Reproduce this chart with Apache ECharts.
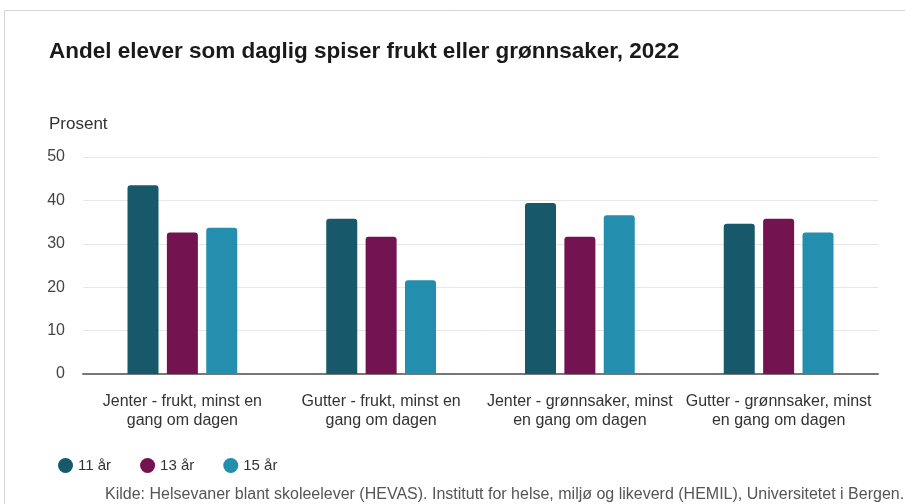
<!DOCTYPE html>
<html>
<head>
<meta charset="utf-8">
<script src="https://cdn.jsdelivr.net/npm/echarts@6/dist/echarts.min.js"></script>
<style>
  html, body { margin: 0; padding: 0; background: #fff; }
  #main { width: 905px; height: 504px; }
</style>
</head>
<body>
<div id="main"></div>
<script>
// kategorier
var categories = [
    'Jenter - frukt, minst en\ngang om dagen',
    'Gutter - frukt, minst en\ngang om dagen',
    'Jenter - grønnsaker, minst\nen gang om dagen',
    'Gutter - grønnsaker, minst\nen gang om dagen'
];
var seriesNames = ['11 år', '13 år', '15 år'];
var colors = ['#17596a', '#731350', '#238ead'];

// verdier (prosent)
var age11 = [43.5, 35.8, 39.4, 34.6];
var age13 = [32.6, 31.6, 31.6, 35.8];
var age15 = [33.7, 21.6, 36.6, 32.6];

var yTicks = [0, 10, 20, 30, 40, 50];

var font = '"Liberation Sans", Arial, Helvetica, sans-serif';

function bar(name, data, color){
    return {
        name: name,
        type: 'bar',
        data: data,
        barWidth: '15.6%',
        barGap: '27%',
        itemStyle: { color: color, borderRadius: [3, 3, 0, 0] }
    };
}

var myChart = echarts.init(document.getElementById('main'));
var option = {
    animation: false,
    textStyle: { fontFamily: font },
    title: [
        {
            text: 'Andel elever som daglig spiser frukt eller grønnsaker, 2022',
            left: 44, top: 35,
            textStyle: { fontSize: 22.5, fontWeight: 'bold', color: '#1a1a1a', fontFamily: font }
        },
        {
            text: 'Prosent',
            left: 44, top: 111,
            textStyle: { fontSize: 17, fontWeight: 'normal', color: '#333', fontFamily: font }
        },
        {
            text: 'Kilde: Helsevaner blant skoleelever (HEVAS). Institutt for helse, miljø og likeverd (HEMIL), Universitetet i Bergen.',
            left: 100, top: 482,
            textStyle: { fontSize: 16, fontWeight: 'normal', color: '#555', fontFamily: font }
        }
    ],
    graphic: [
        {
            type: 'rect',
            shape: { x: 4.5, y: 10.5, width: 1000, height: 600 },
            style: { fill: 'none', stroke: '#d4d4d4', lineWidth: 1 },
            silent: true
        }
    ],
    legend: {
        data: seriesNames,
        left: 53, top: 453,
        icon: 'circle',
        itemWidth: 15, itemHeight: 15,
        itemGap: 29,
        textStyle: { fontSize: 15, color: '#333', fontFamily: font }
    },
    grid: { left: 83, right: 27, top: 157, bottom: 130, containLabel: false },
    xAxis: {
        type: 'category',
        data: categories,
        axisTick: { show: false },
        axisLine: { lineStyle: { color: '#777', width: 2 } },
        axisLabel: { fontSize: 16, color: '#333', lineHeight: 19, margin: 18, interval: 0, fontFamily: font }
    },
    yAxis: {
        type: 'value',
        min: yTicks[0],
        max: yTicks[yTicks.length - 1],
        interval: 10,
        axisLine: { show: false },
        axisTick: { show: false },
        splitLine: { lineStyle: { color: '#e6e6e6', width: 1 } },
        axisLabel: { fontSize: 16, color: '#444', margin: 18, fontFamily: font }
    },
    series: [
        bar(seriesNames[0], age11, colors[0]),
        bar(seriesNames[1], age13, colors[1]),
        bar(seriesNames[2], age15, colors[2])
    ]
};
myChart.setOption(option);
window.onresize = myChart.resize;
</script>
</body>
</html>
